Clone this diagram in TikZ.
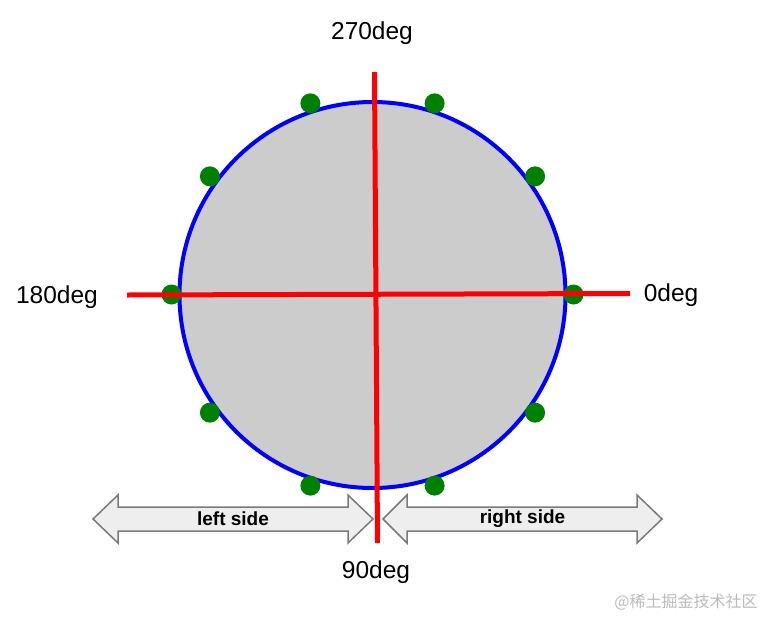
\documentclass[tikz,border=0pt]{standalone}
\usepackage{fontspec}
\usetikzlibrary{calc}
\setmainfont{Liberation Sans}
\newfontfamily\cjk{Noto Sans CJK SC}
\definecolor{discfill}{HTML}{CCCCCC}
\definecolor{dotgreen}{HTML}{008000}
\definecolor{arrfill}{HTML}{EEEEEE}
\definecolor{arrline}{HTML}{7A7A7A}
\definecolor{wm}{HTML}{BBBBBB}
\tikzset{
  disc/.style={circle, draw=blue, fill=discfill, line width=4pt, minimum size=386pt, inner sep=0pt},
  gdot/.style={circle, fill=dotgreen, minimum size=20pt, inner sep=0pt},
  axis/.style={draw=red, line width=5pt},
  deglabel/.style={font=\fontsize{24.5}{28}\selectfont, inner sep=0pt},
  blockarrow/.style={draw=arrline, fill=arrfill, line width=1.5pt, line join=miter},
  sidelabel/.style={font=\fontsize{19}{22}\selectfont\bfseries, inner sep=0pt},
}
\begin{document}
\begin{tikzpicture}[x=1pt,y=-1pt]
\useasboundingbox[fill=white] (0,0) rectangle (762,616);
% disc
\node[disc] (c) at (372.5,295) {};
% green dots
\foreach \a [count=\i] in {0,36,...,324}
  \node[gdot] (d\i) at ($(372.5,294.5)+({201*cos(\a)},{-201*sin(\a)})$) {};
% axes
\coordinate (hl) at (127,295);
\coordinate (hr) at (630,293.5);
\coordinate (vt) at (374.5,72);
\coordinate (vb) at (377.5,543);
% block arrows
\draw[blockarrow] (93,519) -- (118,495) -- (118,507) -- (348,507) -- (348,495) -- (373,519)
  -- (348,543) -- (348,531) -- (118,531) -- (118,543) -- cycle;
\draw[blockarrow] (383,519) -- (407,495) -- (407,507) -- (637,507) -- (637,495) -- (662,519)
  -- (637,543) -- (637,531) -- (407,531) -- (407,543) -- cycle;
\node[sidelabel] (ls) at (233,519) {left side};
\node[sidelabel] (rs) at (522.5,519) {right side};
\draw[axis] (hl) -- (hr);
\draw[axis] (vt) -- (vb);
% labels
\node[deglabel] (l270) at (372,33) {270deg};
\node[deglabel] (l180) at (57,297) {180deg};
\node[deglabel] (l0) at (671,295) {0deg};
\node[deglabel] (l90) at (376,572) {90deg};
\node[font=\cjk\fontsize{16}{18}\selectfont, text=wm, inner sep=0pt] (wmk) at (686,602) {@稀土掘金技术社区};
\end{tikzpicture}
\end{document}
